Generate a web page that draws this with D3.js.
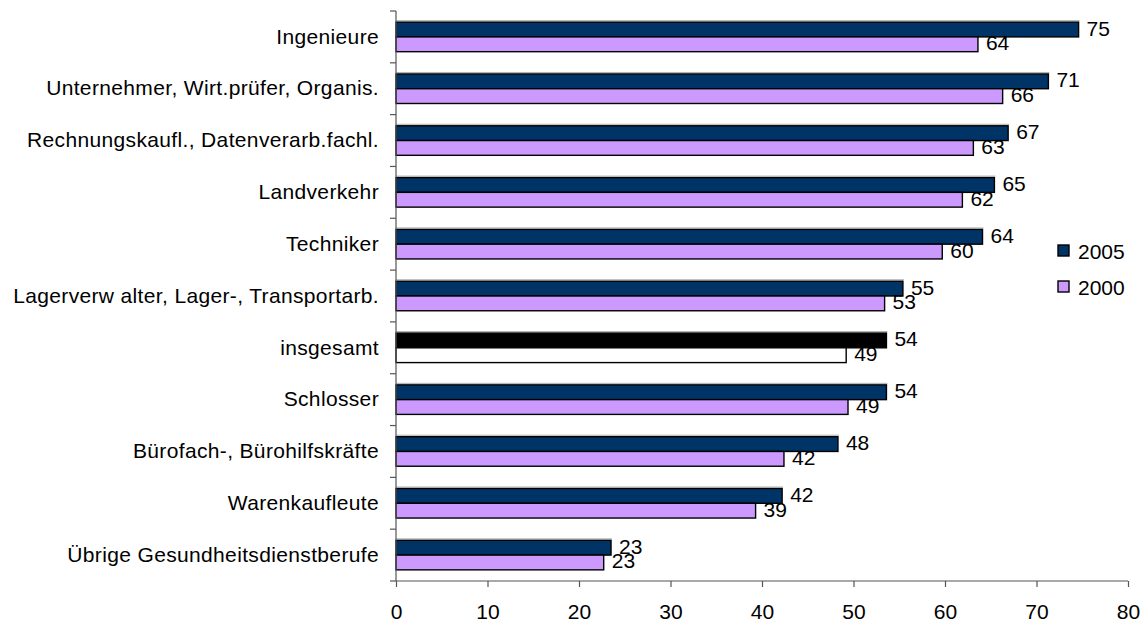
<!DOCTYPE html>
<html><head><meta charset="utf-8">
<script src="https://cdn.jsdelivr.net/npm/d3@7"></script>
<style>
html,body{margin:0;padding:0;background:#fff;}
text{font-family:"Liberation Sans",Arial,sans-serif;fill:#000;}
</style></head>
<body>
<svg id="chart" width="1142" height="624"></svg>
<script>
const categories = ["Ingenieure","Unternehmer, Wirt.prüfer, Organis.","Rechnungskaufl., Datenverarb.fachl.","Landverkehr","Techniker","Lagerverw alter, Lager-, Transportarb.","insgesamt","Schlosser","Bürofach-, Bürohilfskräfte","Warenkaufleute","Übrige Gesundheitsdienstberufe"];
const values2005 = [74.6,71.3,66.9,65.4,64.1,55.4,53.6,53.6,48.3,42.2,23.5];
const values2000 = [63.6,66.3,63.1,61.9,59.7,53.4,49.2,49.4,42.4,39.3,22.7];
const labels2005 = ["75","71","67","65","64","55","54","54","48","42","23"];
const labels2000 = ["64","66","63","62","60","53","49","49","42","39","23"];
const seriesNames = ["2005","2000"];
const seriesColors = ["#003366","#CC99FF"];
const highlightCategory = "insgesamt";
const highlightColors = ["#000000","#FFFFFF"];
const xTicks = [0,10,20,30,40,50,60,70,80];

const FS = "21px";
const svg = d3.select("#chart");
const x = d3.scaleLinear().domain([0,80]).range([396,1128]);
const y = d3.scaleBand().domain(categories).range([11,581]).paddingInner(0.43).paddingOuter(0.215);
const ySub = d3.scaleBand().domain(seriesNames).range([0,y.bandwidth()]);

const data = [];
categories.forEach((c,i)=>{
  data.push({cat:c, s:"2005", si:0, v:values2005[i], lab:labels2005[i]});
  data.push({cat:c, s:"2000", si:1, v:values2000[i], lab:labels2000[i]});
});
function fillOf(d){ return d.cat===highlightCategory ? highlightColors[d.si] : seriesColors[d.si]; }

// light top shadow lines
svg.append("g").selectAll("line").data(data.filter(d=>d.si===0)).join("line")
  .attr("x1",x(0)).attr("x2",d=>x(d.v)+1)
  .attr("y1",d=>y(d.cat)-1.5).attr("y2",d=>y(d.cat)-1.5)
  .attr("stroke","#b0b0b0").attr("stroke-width",1);

svg.append("g").selectAll("rect").data(data).join("rect")
  .attr("x",x(0))
  .attr("y",d=>y(d.cat)+ySub(d.s))
  .attr("width",d=>x(d.v)-x(0))
  .attr("height",ySub.bandwidth())
  .attr("fill",fillOf)
  .attr("stroke","#000").attr("stroke-width",1.4);

svg.append("g").selectAll("text").data(data).join("text")
  .attr("x",d=>x(d.v)+8)
  .attr("y",d=>y(d.cat)+ySub(d.s)+ySub.bandwidth()/2-1.5)
  .attr("dominant-baseline","central")
  .style("font-size",FS)
  .text(d=>d.lab);

// axes
const yAxis = d3.axisLeft(y).tickSize(0).tickPadding(17);
const gy = svg.append("g").attr("transform","translate(396,0)").call(yAxis);
gy.select(".domain").remove();
gy.selectAll("text").style("font-size",FS).style("letter-spacing","0.35px").attr("font-family",null);
// category boundary ticks
const bounds = d3.range(categories.length+1).map(i=>11+i*y.step());
svg.append("g").selectAll("line").data(bounds).join("line")
  .attr("x1",390).attr("x2",396).attr("y1",d=>d).attr("y2",d=>d)
  .attr("stroke","#555").attr("stroke-width",1.2);
svg.append("line").attr("x1",396).attr("x2",396).attr("y1",11).attr("y2",581)
  .attr("stroke","#555").attr("stroke-width",1.2);

const xAxis = d3.axisBottom(x).tickValues(xTicks).tickSize(6).tickPadding(17).tickFormat(d3.format("d"));
const gx = svg.append("g").attr("transform","translate(0,581)").call(xAxis);
gx.select(".domain").attr("stroke","#555").attr("stroke-width",1.2).attr("d","M396,0H1128");
gx.selectAll(".tick line").attr("stroke","#555").attr("stroke-width",1.2);
gx.selectAll("text").style("font-size",FS).attr("font-family",null);

// legend
const leg = svg.append("g").selectAll("g").data(seriesNames).join("g")
  .attr("transform",(d,i)=>`translate(1058,${245+i*36})`);
leg.append("rect").attr("width",11).attr("height",11)
  .attr("fill",(d,i)=>seriesColors[i]).attr("stroke","#000").attr("stroke-width",1.4);
leg.append("text").attr("x",20).attr("y",6).attr("dominant-baseline","central")
  .style("font-size",FS).text(d=>d);
</script>
</body></html>
